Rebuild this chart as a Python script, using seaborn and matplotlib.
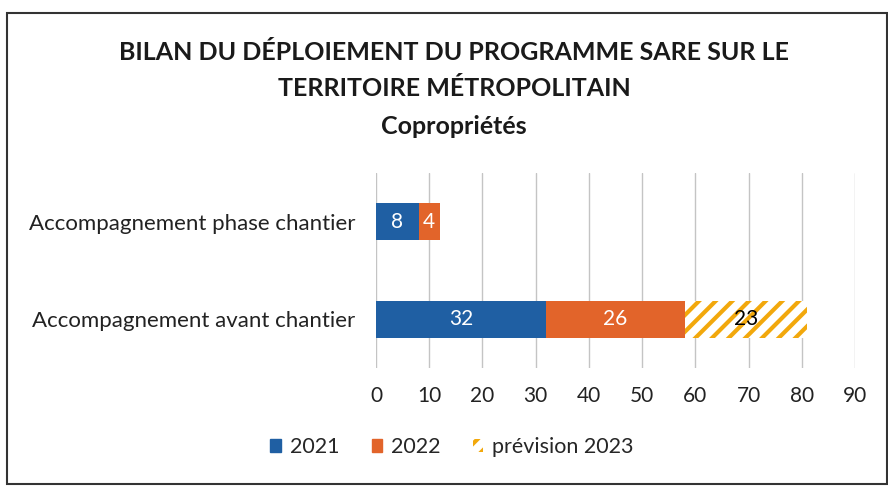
import matplotlib
matplotlib.use("Agg")
import matplotlib.pyplot as plt
import matplotlib.patches as mpatches
import seaborn as sns
import pandas as pd

categories = ["Accompagnement phase chantier", "Accompagnement avant chantier"]
v2021 = [8, 32]
v2022 = [4, 26]
v2023 = [0, 23]
series_labels = ["2021", "2022", "prévision 2023"]
x_ticks = [0, 10, 20, 30, 40, 50, 60, 70, 80, 90]

blue = "#1F5FA3"
orange = "#E2642A"
gold = "#F2A80C"

sns.set_theme(style="white")
plt.rcParams['font.family'] = ['Lato', 'DejaVu Sans']
plt.rcParams['hatch.linewidth'] = 3.0

fig = plt.figure(figsize=(8.88, 4.86), dpi=100)
ax = fig.add_axes([376/888, 1-368/486, (855-376)/888, (368-173)/486])

c1 = v2021
c2 = [a + b for a, b in zip(v2021, v2022)]
c3 = [a + b + c for a, b, c in zip(v2021, v2022, v2023)]
df = pd.DataFrame({"cat": categories, "c1": c1, "c2": c2, "c3": c3})

sns.barplot(data=df, y="cat", x="c3", ax=ax, color="white", width=0.38,
            saturation=1, hatch="//", edgecolor=gold, linewidth=0)
sns.barplot(data=df, y="cat", x="c2", ax=ax, color=orange, width=0.38,
            saturation=1, linewidth=0)
sns.barplot(data=df, y="cat", x="c1", ax=ax, color=blue, width=0.38,
            saturation=1, linewidth=0)

# labels
for i, cat in enumerate(categories):
    segs = [(0, v2021[i], "white"), (v2021[i], v2022[i], "white"),
            (v2021[i] + v2022[i], v2023[i], "black")]
    for start, val, col in segs:
        if val > 0:
            ax.text(start + val / 2, i, str(val), ha="center", va="center",
                    color=col, fontsize=15)

ax.set_xlim(0, 90)
ax.set_xticks(x_ticks)
ax.set_xticklabels([str(t) for t in x_ticks], fontsize=15, color="#222222")
ax.tick_params(axis="x", length=0, pad=13)
ax.tick_params(axis="y", length=0, pad=15, labelsize=16, labelcolor="#222222")
ax.set_xlabel("")
ax.set_ylabel("")
ax.grid(axis="x", color="#C4C4C4", linewidth=1)
ax.set_axisbelow(True)
for s in ax.spines.values():
    s.set_visible(False)

# title
tx = 454 / 888
fig.text(tx, 1 - 52/486, "BILAN DU DÉPLOIEMENT DU PROGRAMME SARE SUR LE",
         ha="center", va="center", fontsize=18, fontweight="bold", color="#1a1a1a")
fig.text(tx, 1 - 89/486, "TERRITOIRE MÉTROPOLITAIN",
         ha="center", va="center", fontsize=18, fontweight="bold", color="#1a1a1a")
fig.text(tx, 1 - 126/486, "Copropriétés",
         ha="center", va="center", fontsize=18, fontweight="bold", color="#1a1a1a")

# legend
handles = [mpatches.Patch(facecolor=blue, edgecolor=blue),
           mpatches.Patch(facecolor=orange, edgecolor=orange),
           mpatches.Patch(facecolor="white", edgecolor=gold, hatch="//", linewidth=0)]
fig.legend(handles, series_labels, loc="center", bbox_to_anchor=(452/888, 1 - 447/486),
           ncol=3, frameon=False, fontsize=15.5, handlelength=0.5, handleheight=0.6,
           columnspacing=1.5, handletextpad=0.4)

# outer frame
fig.patches.append(mpatches.Rectangle((7/888, 2/486), 880/888, (473-2)/486,
                                      transform=fig.transFigure, fill=False,
                                      edgecolor="#333333", linewidth=1.5))

fig.savefig("out.png", dpi=100)
